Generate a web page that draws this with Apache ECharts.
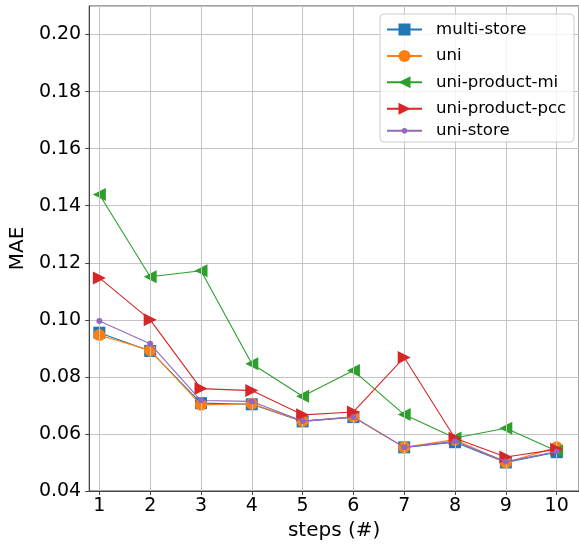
<!DOCTYPE html>
<html>
<head>
<meta charset="utf-8">
<script src="https://cdn.jsdelivr.net/npm/echarts@6/dist/echarts.min.js"></script>
<style>html,body{margin:0;padding:0;background:#fff}#c{width:579px;height:547px}</style>
</head>
<body>
<div id="c"></div>
<script>
const steps = [1, 2, 3, 4, 5, 6, 7, 8, 9, 10];
const yTicks = [0.04, 0.06, 0.08, 0.10, 0.12, 0.14, 0.16, 0.18, 0.20];
const multiStore = [0.0955, 0.0891, 0.0708, 0.0704, 0.0644, 0.0659, 0.0553, 0.0571, 0.0500, 0.0536];
const uni = [0.0947, 0.0893, 0.0702, 0.0706, 0.0645, 0.0660, 0.0553, 0.0580, 0.0500, 0.0553];
const uniProductMi = [0.1439, 0.1151, 0.1172, 0.0846, 0.0732, 0.0822, 0.0668, 0.0586, 0.0620, 0.0540];
const uniProductPcc = [0.1147, 0.1000, 0.0759, 0.0752, 0.0667, 0.0677, 0.0868, 0.0585, 0.0519, 0.0546];
const uniStore = [0.0996, 0.0916, 0.0717, 0.0714, 0.0645, 0.0659, 0.0553, 0.0574, 0.0503, 0.0538];

const FONT = 'DejaVu Sans';
const chart = echarts.init(document.getElementById('c'), null, {renderer: 'canvas'});

function pts(arr) { return steps.map((s, i) => [s, arr[i]]); }
function mk(name, arr, color, symbol, size, rotate, z) {
  return {
    name: name, type: 'line', data: pts(arr), z: z,
    symbol: symbol, symbolSize: size, symbolRotate: rotate,
    showAllSymbol: true,
    lineStyle: {color: color, width: 1.1},
    itemStyle: {color: color, borderColor: color, borderWidth: 0},
    emphasis: {disabled: true},
    animation: false
  };
}

const option = {
  animation: false,
  backgroundColor: '#ffffff',
  grid: {left: 84, right: 0, top: 6, bottom: 56, show: true, borderColor: '#444', borderWidth: 1, backgroundColor: 'transparent'},
  xAxis: {
    type: 'value', min: 0.8, max: 10.44,
    name: 'steps (#)', nameLocation: 'middle', nameGap: 29,
    nameTextStyle: {fontFamily: FONT, fontSize: 20, color: '#000'},
    axisLine: {show: true, onZero: false, lineStyle: {color: '#444', width: 1}},
    axisTick: {show: true, length: 4, inside: false, customValues: steps, lineStyle: {color: '#444'}},
    axisLabel: {customValues: steps, fontFamily: FONT, fontSize: 19, color: '#000', margin: 6},
    splitLine: {show: false}
  },
  yAxis: {
    type: 'value', min: 0.04, max: 0.21, interval: 0.02,
    name: 'MAE', nameLocation: 'middle', nameGap: 60,
    nameTextStyle: {fontFamily: FONT, fontSize: 20, color: '#000'},
    axisLine: {show: true, onZero: false, lineStyle: {color: '#444', width: 1}},
    axisTick: {show: true, length: 4, lineStyle: {color: '#444'}},
    axisLabel: {fontFamily: FONT, fontSize: 19, color: '#000', margin: 8, showMaxLabel: false,
      formatter: v => v.toFixed(2)},
    splitLine: {show: true, lineStyle: {color: '#c4c4c4', width: 1}}
  },
  legend: [
    {
      data: ['multi-store', 'uni', 'uni-product-mi', 'uni-product-pcc'],
      orient: 'vertical', left: 386, top: 21, padding: 0,
      itemWidth: 35, itemHeight: 15, itemGap: 9.4, z: 10,
      textStyle: {fontFamily: FONT, fontSize: 16.6, color: '#000', padding: [0, 0, 0, 9]},
      selectedMode: false
    },
    {
      data: ['uni-store'],
      orient: 'vertical', left: 386, top: 122.2, padding: 0,
      itemWidth: 35, itemHeight: 7, itemGap: 0, z: 10,
      textStyle: {fontFamily: FONT, fontSize: 16.6, color: '#000', padding: [0, 0, 0, 9]},
      selectedMode: false
    }
  ],
  graphic: [{
    type: 'rect', z: 8, silent: true,
    shape: {x: 380, y: 14, width: 194, height: 128, r: 4},
    style: {fill: 'rgba(255,255,255,0.8)', stroke: '#cccccc', lineWidth: 1}
  }],
  series: [
    {
      name: 'grid-x', type: 'line', data: [], z: 1, silent: true,
      markLine: {
        silent: true, symbol: ['none', 'none'], animation: false,
        label: {show: false},
        lineStyle: {color: '#c4c4c4', width: 1, type: 'solid'},
        data: steps.map(s => ({xAxis: s}))
      }
    },
    mk('multi-store', multiStore, '#1f77b4', 'rect', 12, 0, 2),
    mk('uni', uni, '#ff7f0e', 'circle', 12, 0, 3),
    mk('uni-product-mi', uniProductMi, '#2ca02c', 'triangle', 13, 90, 4),
    mk('uni-product-pcc', uniProductPcc, '#d62728', 'triangle', 13, -90, 5),
    mk('uni-store', uniStore, '#9467bd', 'circle', 6, 0, 6)
  ]
};
chart.setOption(option);
</script>
</body>
</html>
